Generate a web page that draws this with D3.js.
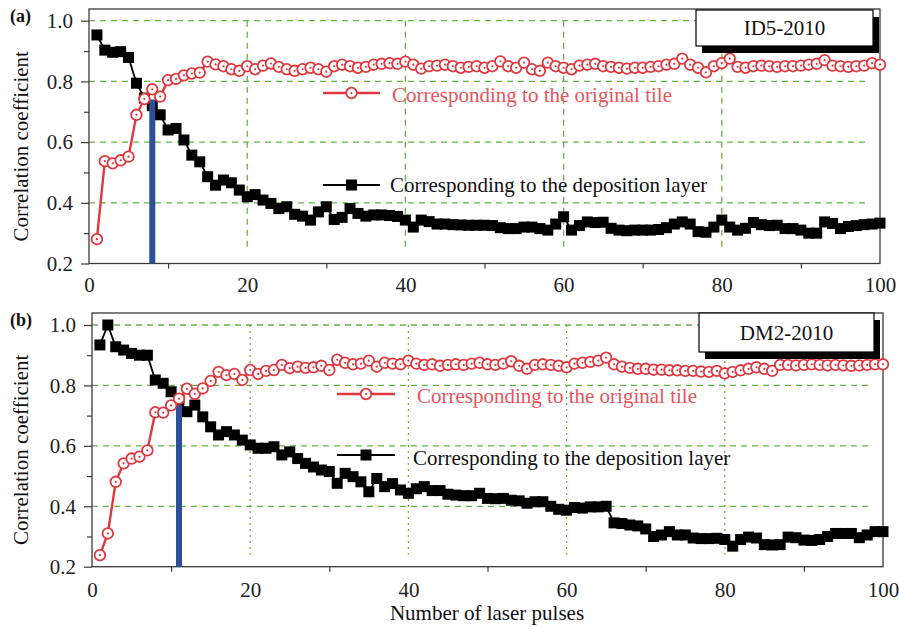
<!DOCTYPE html>
<html>
<head>
<meta charset="utf-8">
<script src="https://cdn.jsdelivr.net/npm/d3@7"></script>
<style>
  html, body { margin: 0; padding: 0; background: #ffffff; }
  svg { display: block; font-family: "Liberation Serif", "Times New Roman", serif; }
</style>
</head>
<body>
<svg id="chart" width="899" height="629"></svg>
<script>
// Pulse index shared by every series (1 … 100)
const pulses = d3.range(1, 101);

// Axis tick values and labels
const xTicks = [0, 20, 40, 60, 80, 100];
const xMinor = [10, 30, 50, 70, 90];
const yTicks = [0.2, 0.4, 0.6, 0.8, 1.0];
const yMinor = [0.3, 0.5, 0.7, 0.9];
const xGrid = [20, 40, 60, 80];
const yGrid = [0.4, 0.6, 0.8, 1.0];

const seriesNames = ["Corresponding to the original tile", "Corresponding to the deposition layer"];
const panelTags = ["(a)", "(b)"];
const sampleNames = ["ID5-2010", "DM2-2010"];
const xTitle = "Number of laser pulses";
const yTitle = "Correlation coefficient";

// (a) ID5-2010 — correlation with the original tile
const tileA = [
  0.280, 0.537, 0.530, 0.540, 0.552, 0.690, 0.742, 0.774, 0.750, 0.804,
  0.808, 0.820, 0.826, 0.829, 0.865, 0.856, 0.850, 0.840, 0.835, 0.850,
  0.840, 0.852, 0.859, 0.848, 0.840, 0.835, 0.840, 0.845, 0.840, 0.832,
  0.850, 0.855, 0.850, 0.845, 0.848, 0.855, 0.858, 0.860, 0.858, 0.865,
  0.855, 0.842, 0.850, 0.852, 0.855, 0.850, 0.845, 0.848, 0.850, 0.845,
  0.850, 0.866, 0.850, 0.845, 0.862, 0.840, 0.835, 0.862, 0.850, 0.845,
  0.840, 0.852, 0.855, 0.858, 0.850, 0.848, 0.845, 0.842, 0.845, 0.845,
  0.848, 0.850, 0.855, 0.858, 0.875, 0.855, 0.845, 0.830, 0.850, 0.860,
  0.875, 0.848, 0.845, 0.850, 0.852, 0.850, 0.848, 0.850, 0.850, 0.852,
  0.855, 0.858, 0.870, 0.852, 0.850, 0.848, 0.850, 0.852, 0.860, 0.855
];
// (a) ID5-2010 — correlation with the deposition layer
const depA = [
  0.953, 0.903, 0.896, 0.898, 0.879, 0.794, 0.745, 0.720, 0.690, 0.640,
  0.645, 0.607, 0.557, 0.535, 0.486, 0.458, 0.475, 0.466, 0.442, 0.420,
  0.427, 0.409, 0.398, 0.381, 0.387, 0.362, 0.356, 0.343, 0.370, 0.387,
  0.345, 0.352, 0.381, 0.365, 0.356, 0.360, 0.360, 0.358, 0.355, 0.343,
  0.320, 0.343, 0.338, 0.330, 0.330, 0.328, 0.327, 0.326, 0.326, 0.326,
  0.325, 0.318, 0.315, 0.315, 0.320, 0.320, 0.315, 0.310, 0.330, 0.354,
  0.310, 0.325, 0.337, 0.335, 0.336, 0.316, 0.310, 0.308, 0.310, 0.310,
  0.310, 0.312, 0.318, 0.330, 0.337, 0.330, 0.305, 0.303, 0.320, 0.343,
  0.320, 0.310, 0.316, 0.335, 0.328, 0.325, 0.326, 0.315, 0.315, 0.310,
  0.300, 0.300, 0.337, 0.332, 0.315, 0.322, 0.325, 0.328, 0.330, 0.333
];
// (b) DM2-2010 — correlation with the original tile
const tileB = [
  0.238, 0.310, 0.481, 0.542, 0.558, 0.564, 0.585, 0.711, 0.710, 0.734,
  0.756, 0.789, 0.772, 0.790, 0.815, 0.845, 0.834, 0.838, 0.818, 0.851,
  0.838, 0.848, 0.851, 0.868, 0.857, 0.862, 0.858, 0.860, 0.865, 0.851,
  0.885, 0.875, 0.870, 0.872, 0.882, 0.862, 0.875, 0.872, 0.870, 0.882,
  0.872, 0.868, 0.870, 0.865, 0.868, 0.870, 0.868, 0.872, 0.875, 0.870,
  0.868, 0.872, 0.880, 0.865, 0.855, 0.868, 0.870, 0.868, 0.865, 0.860,
  0.872, 0.875, 0.878, 0.882, 0.892, 0.870, 0.862, 0.858, 0.855, 0.855,
  0.852, 0.852, 0.850, 0.850, 0.848, 0.848, 0.846, 0.845, 0.848, 0.840,
  0.845, 0.850, 0.855, 0.860, 0.855, 0.848, 0.868, 0.868, 0.866, 0.868,
  0.870, 0.868, 0.866, 0.868, 0.866, 0.865, 0.866, 0.868, 0.870, 0.870
];
// (b) DM2-2010 — correlation with the deposition layer
const depB = [
  0.934, 1.000, 0.928, 0.917, 0.906, 0.900, 0.900, 0.818, 0.807, 0.779,
  0.752, 0.713, 0.735, 0.696, 0.663, 0.636, 0.647, 0.636, 0.619, 0.603,
  0.592, 0.592, 0.597, 0.570, 0.580, 0.558, 0.542, 0.530, 0.520, 0.515,
  0.476, 0.509, 0.498, 0.481, 0.448, 0.492, 0.465, 0.475, 0.454, 0.443,
  0.458, 0.465, 0.452, 0.452, 0.440, 0.437, 0.435, 0.435, 0.443, 0.426,
  0.425, 0.426, 0.420, 0.418, 0.410, 0.415, 0.415, 0.400, 0.390, 0.387,
  0.396, 0.394, 0.398, 0.398, 0.400, 0.345, 0.343, 0.338, 0.335, 0.325,
  0.300, 0.305, 0.316, 0.305, 0.305, 0.295, 0.293, 0.293, 0.294, 0.290,
  0.268, 0.290, 0.298, 0.295, 0.273, 0.272, 0.273, 0.298, 0.296, 0.288,
  0.287, 0.290, 0.300, 0.310, 0.310, 0.310, 0.296, 0.305, 0.316, 0.316
];

// Crossing of the two curves: pulse number and correlation value
const crossPulse = [8, 11];
const crossValue = [0.74, 0.735];

// ---------- styling ----------
const RED = "#e0383e";
const RED_TEXT = "#e8555b";
const GREEN = "#66b247";
const BLUE = "#2d4f95";
const FONT = 21;
const SQ = 11;     // square marker side
const CR = 5.3;    // circle marker radius

const svg = d3.select("#chart");

// Panel frames (pixel layout)
const layouts = [
  { left: 89, right: 880, top: 9, bottom: 263.5, y10: 20.7, gridRight: 867, vDash: "6,5",
    box: { x: 696, y: 10, w: 177, h: 36 }, tickPad: 14,
    legRed: { x1: 323, x2: 380, y: 93, tx: 392, ty: 102 },
    legBlk: { x1: 323, x2: 380, y: 185, tx: 390, ty: 192 } },
  { left: 92, right: 883, top: 313, bottom: 566.7, y10: 325, gridRight: 872, vDash: "2,4",
    box: { x: 699, y: 313, w: 175, h: 39 }, tickPad: 15,
    legRed: { x1: 337, x2: 395, y: 394, tx: 417, ty: 403 },
    legBlk: { x1: 337, x2: 395, y: 455, tx: 413, ty: 465 } }
];

const panelData = [
  { tile: tileA, dep: depA },
  { tile: tileB, dep: depB }
];

function circleMarker(sel) {
  sel.append("circle").attr("r", CR).attr("fill", "#fff").attr("stroke", RED).attr("stroke-width", 1.8);
  sel.append("circle").attr("r", 1.1).attr("fill", RED);
}

layouts.forEach((L, i) => {
  const D = panelData[i];
  const x = d3.scaleLinear().domain([0, 100]).range([L.left, L.right]);
  const y = d3.scaleLinear().domain([0.2, 1.0]).range([L.bottom, L.y10]);
  const g = svg.append("g");

  // grid
  g.append("g").selectAll("line").data(yGrid).join("line")
    .attr("x1", L.left).attr("x2", L.gridRight)
    .attr("y1", d => y(d)).attr("y2", d => y(d))
    .attr("stroke", GREEN).attr("stroke-width", 1.3).attr("stroke-dasharray", "6,5");
  g.append("g").selectAll("line").data(xGrid).join("line")
    .attr("x1", d => x(d)).attr("x2", d => x(d))
    .attr("y1", y(1.0)).attr("y2", y(0.24))
    .attr("stroke", GREEN).attr("stroke-width", 1.3).attr("stroke-dasharray", L.vDash);

  // frame
  g.append("rect")
    .attr("x", L.left).attr("y", L.top)
    .attr("width", L.right - L.left).attr("height", L.bottom - L.top)
    .attr("fill", "none").attr("stroke", "#3a3a3a").attr("stroke-width", 1.3);

  // minor ticks
  const xm = g.append("g").attr("transform", `translate(0,${L.bottom})`)
    .call(d3.axisBottom(x).tickValues(xMinor).tickSize(5).tickFormat(""));
  const ym = g.append("g").attr("transform", `translate(${L.left},0)`)
    .call(d3.axisLeft(y).tickValues(yMinor).tickSize(5).tickFormat(""));

  // major ticks with labels
  const xa = g.append("g").attr("transform", `translate(0,${L.bottom})`)
    .call(d3.axisBottom(x).tickValues(xTicks).tickSize(0).tickPadding(L.tickPad).tickFormat(d3.format("d")));
  const ya = g.append("g").attr("transform", `translate(${L.left},0)`)
    .call(d3.axisLeft(y).tickValues(yTicks).tickSize(8).tickPadding(8).tickFormat(d3.format(".1f")));
  [xm, ym, xa, ya].forEach(a => {
    a.select(".domain").remove();
    a.selectAll("line").attr("stroke", "#3a3a3a").attr("stroke-width", 1.2);
    a.selectAll("text").attr("font-family", "Liberation Serif, serif").attr("font-size", FONT).attr("fill", "#222");
  });

  // deposition-layer series (black squares)
  const line = d3.line().x((d, k) => x(pulses[k])).y(d => y(d));
  g.append("path").datum(D.dep).attr("d", line)
    .attr("fill", "none").attr("stroke", "#000").attr("stroke-width", 1.8);
  g.append("g").selectAll("rect").data(D.dep).join("rect")
    .attr("x", (d, k) => x(pulses[k]) - SQ / 2).attr("y", d => y(d) - SQ / 2)
    .attr("width", SQ).attr("height", SQ).attr("fill", "#000");

  // crossing marker
  g.append("line")
    .attr("x1", x(crossPulse[i])).attr("x2", x(crossPulse[i]))
    .attr("y1", y(0.2)).attr("y2", y(crossValue[i]))
    .attr("stroke", BLUE).attr("stroke-width", 6);

  // original-tile series (red open circles)
  g.append("path").datum(D.tile).attr("d", line)
    .attr("fill", "none").attr("stroke", RED).attr("stroke-width", 2.4);
  g.append("g").selectAll("g").data(D.tile).join("g")
    .attr("transform", (d, k) => `translate(${x(pulses[k])},${y(d)})`)
    .call(circleMarker);

  // in-plot legend
  g.append("line").attr("x1", L.legRed.x1).attr("x2", L.legRed.x2)
    .attr("y1", L.legRed.y).attr("y2", L.legRed.y).attr("stroke", RED).attr("stroke-width", 2.4);
  g.append("g").attr("transform", `translate(${(L.legRed.x1 + L.legRed.x2) / 2},${L.legRed.y})`).call(circleMarker);
  g.append("text").attr("x", L.legRed.tx).attr("y", L.legRed.ty)
    .attr("font-size", FONT).attr("fill", RED_TEXT).text(seriesNames[0]);

  g.append("line").attr("x1", L.legBlk.x1).attr("x2", L.legBlk.x2)
    .attr("y1", L.legBlk.y).attr("y2", L.legBlk.y).attr("stroke", "#000").attr("stroke-width", 2);
  g.append("rect").attr("x", (L.legBlk.x1 + L.legBlk.x2) / 2 - SQ / 2).attr("y", L.legBlk.y - SQ / 2)
    .attr("width", SQ).attr("height", SQ).attr("fill", "#000");
  g.append("text").attr("x", L.legBlk.tx).attr("y", L.legBlk.ty)
    .attr("font-size", FONT).attr("fill", "#111").text(seriesNames[1]);

  // sample name box with drop shadow
  const B = L.box;
  g.append("rect").attr("x", B.x + 6).attr("y", B.y + 7).attr("width", B.w).attr("height", B.h).attr("fill", "#000");
  g.append("rect").attr("x", B.x).attr("y", B.y).attr("width", B.w).attr("height", B.h)
    .attr("fill", "#fff").attr("stroke", "#000").attr("stroke-width", 1.2);
  g.append("text").attr("x", B.x + B.w / 2).attr("y", B.y + B.h / 2 + 7)
    .attr("text-anchor", "middle").attr("font-size", FONT).attr("fill", "#111").text(sampleNames[i]);

  // panel tag
  svg.append("text").attr("x", 10).attr("y", L.top + 13)
    .attr("font-size", 18).attr("font-weight", "bold").attr("fill", "#111").text(panelTags[i]);

  // y title
  const cy = (L.top + L.bottom) / 2 + 10;
  svg.append("text").attr("transform", `translate(28,${cy}) rotate(-90)`)
    .attr("text-anchor", "middle").attr("font-size", FONT).attr("fill", "#111").text(yTitle);
});

// x title
svg.append("text").attr("x", 487).attr("y", 620)
  .attr("text-anchor", "middle").attr("font-size", FONT).attr("fill", "#111").text(xTitle);
</script>
</body>
</html>
